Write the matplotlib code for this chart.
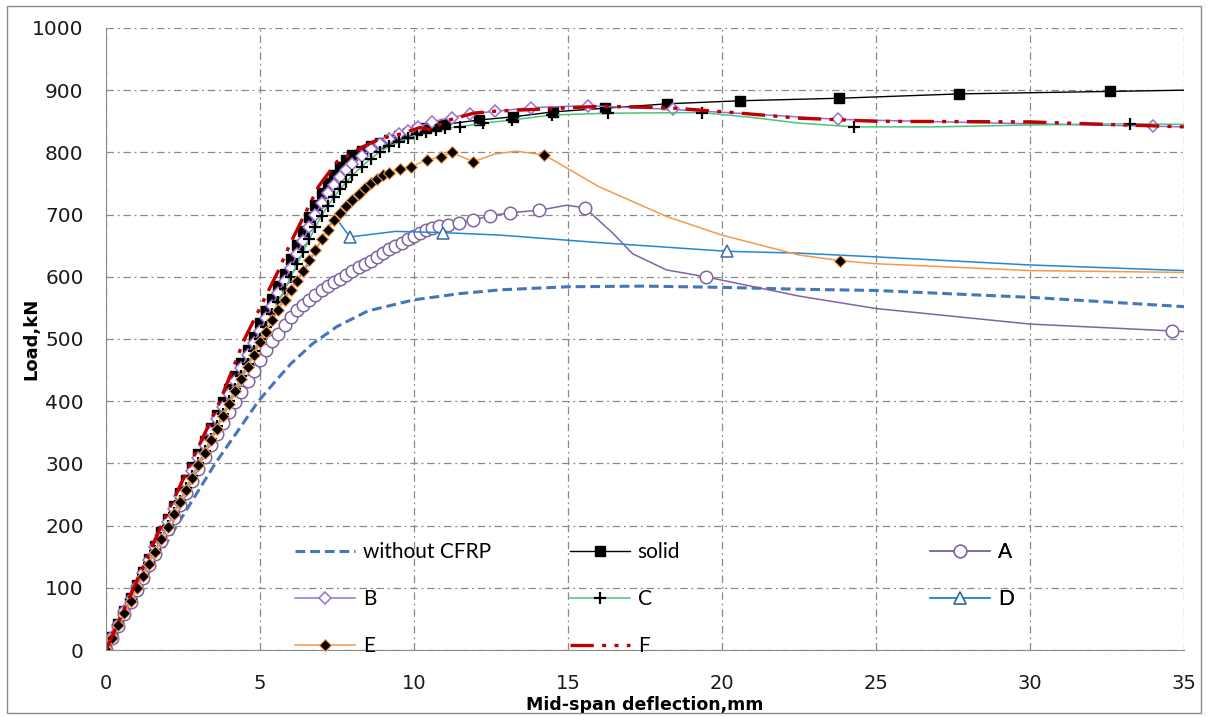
import matplotlib
matplotlib.use("Agg")
import matplotlib.pyplot as plt
from matplotlib.lines import Line2D
from matplotlib.patches import Rectangle

# ---- data (deflection mm, load kN) ----
wo_x = [0, 1.1, 2.3, 3.55, 4.95, 5.5, 6.0, 6.7, 7.5, 8.5, 10.0, 11.5, 12.8, 15.0, 17.5,
        20.0, 22.5, 25.0, 30.0, 35.0]
wo_y = [0, 100, 200, 300, 400, 432, 460, 492, 520, 545, 563, 573, 579, 584, 585,
        583, 580, 578, 567, 552]

solid_x = [0, 0.2, 0.4, 0.6, 0.8, 1.0, 1.2, 1.4, 1.6, 1.8, 2.0, 2.2, 2.4, 2.6, 2.8, 3.0,
           3.2, 3.4, 3.6, 3.8, 4.0, 4.2, 4.4, 4.6, 4.8, 5.0, 5.2, 5.4, 5.6, 5.8, 6.0, 6.2,
           6.4, 6.6, 6.8, 7.0, 7.2, 7.4, 7.6, 7.8, 8.0, 8.3, 8.6, 8.9, 9.2, 9.5, 9.8, 10.1,
           10.4, 10.7, 11.0, 12.1, 13.2, 14.5, 16.2, 18.2, 20.6, 23.8, 27.7, 32.6, 35.0]
solid_y = [0, 21, 42, 63, 84, 105, 126, 147, 168, 189, 210, 231, 252, 273, 294, 315,
           336, 357, 378, 399, 420, 441, 462, 483, 504, 525, 545, 565, 585, 605, 628, 651,
           674, 696, 716, 735, 750, 764, 776, 787, 795, 803, 810, 815, 820, 826, 831, 836,
           839, 842, 845, 852, 857, 865, 871, 878, 883, 887, 894, 898, 900]
solid_nomark = [35.0]

a_x = [0, 0.2, 0.4, 0.6, 0.8, 1.0, 1.2, 1.4, 1.6, 1.8, 2.0, 2.2, 2.4, 2.6, 2.8, 3.0, 3.2,
       3.4, 3.6, 3.8, 4.0, 4.2, 4.4, 4.6, 4.8, 5.0, 5.2, 5.4, 5.6, 5.8, 6.0, 6.2, 6.4, 6.6,
       6.8, 7.0, 7.2, 7.4, 7.6, 7.8, 8.0, 8.2, 8.4, 8.6, 8.8, 9.0, 9.2, 9.4, 9.6, 9.8, 10.0,
       10.2, 10.4, 10.6, 10.8, 11.1, 11.47, 11.93, 12.47, 13.12, 14.07, 14.95, 15.55, 16.46,
       17.1, 18.2, 19.47, 22.5, 25.0, 30.0, 34.6, 35.0]
a_y = [0, 19, 39, 58, 78, 97, 116, 136, 155, 175, 194, 213, 233, 252, 272, 291, 310,
       330, 347, 365, 382, 399, 415, 432, 449, 466, 482, 496, 508, 522, 536, 546, 555, 563,
       571, 578, 585, 591, 597, 603, 609, 615, 620, 626, 632, 638, 644, 650, 655, 660, 665,
       670, 675, 678, 681, 684, 687, 691, 698, 703, 707, 715, 711, 670,
       637, 611, 600, 569, 549, 524, 513, 512]
a_nomark = [14.95, 16.46, 17.1, 18.2, 22.5, 25.0, 30.0, 35.0]

b_x = [0, 0.2, 0.4, 0.6, 0.8, 1.0, 1.2, 1.4, 1.6, 1.8, 2.0, 2.2, 2.4, 2.6, 2.8, 3.0, 3.2,
       3.4, 3.6, 3.8, 4.0, 4.2, 4.4, 4.6, 4.8, 5.0, 5.2, 5.4, 5.6, 5.8, 6.0, 6.2, 6.4, 6.6,
       6.8, 7.0, 7.2, 7.4, 7.6, 7.8, 8.0, 8.3, 8.6, 8.9, 9.2, 9.5, 9.8, 10.14, 10.57, 11.22,
       11.82, 12.63, 13.8, 15.66, 18.42, 20.5, 23.78, 29.0, 34.0, 35.0]
b_y = [0, 21, 41, 62, 82, 103, 124, 144, 165, 185, 206, 227, 247, 268, 288, 309, 330,
       350, 371, 391, 412, 433, 453, 474, 494, 513, 533, 553, 574, 594, 614, 636, 658, 680,
       700, 718, 734, 748, 761, 772, 782, 794, 805, 814, 822, 829, 835, 841, 849, 856,
       862, 866, 872, 875, 869, 863, 853, 847, 842, 841]
b_nomark = [20.5, 29.0, 35.0]

c_x = [0, 0.2, 0.4, 0.6, 0.8, 1.0, 1.2, 1.4, 1.6, 1.8, 2.0, 2.2, 2.4, 2.6, 2.8, 3.0, 3.2,
       3.4, 3.6, 3.8, 4.0, 4.2, 4.4, 4.6, 4.8, 5.0, 5.2, 5.4, 5.6, 5.8, 6.0, 6.2, 6.4, 6.6,
       6.8, 7.0, 7.2, 7.4, 7.6, 7.8, 8.0, 8.3, 8.6, 8.9, 9.2, 9.5, 9.8, 10.1, 10.4, 10.7,
       11.0, 11.5, 12.23, 13.17, 14.47, 16.3, 19.34, 21.0, 22.5, 24.3, 27.0, 30.0, 33.25, 35.0]
c_y = [0, 20, 40, 60, 80, 100, 120, 140, 160, 180, 200, 220, 240, 260, 280, 300, 320,
       340, 360, 380, 400, 420, 440, 460, 480, 500, 520, 540, 560, 580, 600, 620, 640, 660,
       680, 698, 714, 728, 741, 752, 763, 777, 790, 801, 810, 817, 823, 829, 833, 836,
       839, 841, 847, 852, 860, 863, 864, 856, 847, 841, 841, 844, 846, 845]
c_nomark = [21.0, 22.5, 27.0, 30.0, 35.0]

d_x = [0, 1.0, 2.0, 3.0, 4.0, 5.0, 5.8, 6.5, 7.0, 7.43, 7.92, 9.4, 10.95, 12.8, 16.0,
       20.15, 22.5, 25.0, 30.0, 35.0]
d_y = [0, 99, 199, 298, 395, 495, 565, 615, 660, 697, 664, 673, 671, 667, 655,
       641, 638, 632, 619, 610]
d_marked = [0, 7.92, 10.95, 20.15]

e_x = [0, 0.2, 0.4, 0.6, 0.8, 1.0, 1.2, 1.4, 1.6, 1.8, 2.0, 2.2, 2.4, 2.6, 2.8, 3.0, 3.2,
       3.4, 3.6, 3.8, 4.0, 4.2, 4.4, 4.6, 4.8, 5.0, 5.2, 5.4, 5.6, 5.8, 6.0, 6.2, 6.4, 6.6,
       6.8, 7.0, 7.2, 7.4, 7.6, 7.8, 8.0, 8.2, 8.4, 8.6, 8.8, 9.0, 9.2, 9.55, 9.92, 10.41,
       10.88, 11.22, 11.93, 12.6, 13.3, 14.23, 16.0, 18.2, 20.0, 22.5, 23.83, 25.0, 30.0, 35.0]
e_y = [0, 20, 40, 59, 79, 99, 119, 139, 158, 178, 198, 218, 238, 257, 277, 297, 317,
       337, 356, 376, 396, 416, 436, 455, 475, 495, 512, 530, 547, 563, 578, 594, 610, 627,
       643, 660, 676, 691, 703, 714, 724, 733, 742, 750, 757, 763, 767, 773, 777, 788,
       792, 800, 785, 797, 802, 796, 745, 697, 667, 635, 626, 621, 610, 607]
e_nomark = [12.6, 13.3, 16.0, 18.2, 20.0, 22.5, 25.0, 30.0, 35.0]

f_x = [0, 0.9, 1.8, 2.75, 3.7, 4.5, 5.1, 5.6, 6.0, 6.45, 6.9, 7.5, 8.3, 8.9, 9.6, 10.2,
       10.57, 11.0, 11.93, 12.57, 13.87, 16.04, 18.2, 20.37, 22.5, 25.0, 30.0, 35.0]
f_y = [0, 100, 200, 300, 400, 500, 560, 610, 655, 700, 745, 785, 808, 822, 830, 840,
       836, 850, 863, 866, 869, 874, 872, 864, 855, 850, 849, 841]

labels = ["without CFRP", "solid", "A", "B", "C", "D", "E", "F"]


def mark_idx(xs, skip=None, only=None):
    if only is not None:
        return [i for i, v in enumerate(xs) if v in only]
    return [i for i, v in enumerate(xs) if v not in skip]


styles = {
    "without CFRP": dict(color="#4676BA", lw=2.2, ls=(0, (3.2, 1.6))),
    "solid": dict(color="black", lw=1.0, marker="s", ms=6.5, mfc="black", mec="black"),
    "A": dict(color="#8064A2", lw=1.1, marker="o", ms=9, mfc="white", mec="#8064A2", mew=1.1),
    "B": dict(color="#9B6FD1", lw=1.1, marker="D", ms=6.5, mfc="white", mec="#9B6FD1", mew=1.1),
    "C": dict(color="#4CC47E", lw=1.1, marker="+", ms=9, mec="black", mew=1.6),
    "D": dict(color="#1F88D4", lw=1.1, marker="^", ms=8.5, mfc="white", mec="#3A6AA6", mew=1.1),
    "E": dict(color="#F5994A", lw=1.1, marker="D", ms=6, mfc="black", mec="#F5994A", mew=0.8),
    "F": dict(color="#C00000", lw=2.4, ls=(0, (7, 2.5, 1.2, 2.5, 1.2, 2.5))),
}

fig = plt.figure(figsize=(12.08, 7.17), dpi=100)
ax = fig.add_axes([0.0877, 0.0934, 0.8924, 0.8676])

ax.plot(wo_x, wo_y, **styles["without CFRP"])
ax.plot(solid_x, solid_y, markevery=mark_idx(solid_x, skip=solid_nomark), **styles["solid"])
ax.plot(a_x, a_y, markevery=mark_idx(a_x, skip=a_nomark), **styles["A"])
ax.plot(b_x, b_y, markevery=mark_idx(b_x, skip=b_nomark), **styles["B"])
ax.plot(c_x, c_y, markevery=mark_idx(c_x, skip=c_nomark), **styles["C"])
ax.plot(d_x, d_y, markevery=mark_idx(d_x, only=d_marked), **styles["D"])
ax.plot(e_x, e_y, markevery=mark_idx(e_x, skip=e_nomark), **styles["E"])
ax.plot(f_x, f_y, **styles["F"])

ax.set_xlim(0, 35)
ax.set_ylim(0, 1000)
ax.set_xticks(range(0, 36, 5))
ax.set_yticks(range(0, 1001, 100))
ax.grid(True, color="#8a8a8a", lw=0.9, ls=(0, (6, 3, 1.5, 3)))
ax.set_axisbelow(True)
for s in ["top", "right"]:
    ax.spines[s].set_visible(False)
for s in ["left", "bottom"]:
    ax.spines[s].set_color("#8a8a8a")
ax.tick_params(axis="y", labelsize=14.5, length=0, pad=16, labelcolor="#1a1a1a")
ax.tick_params(axis="x", labelsize=14, length=0, pad=17, labelcolor="#1a1a1a")

ax.set_xlabel("Mid-span deflection,mm", fontsize=12.5, fontweight="bold")
ax.xaxis.set_label_coords(0.5, -0.074)
ax.set_ylabel("Load,kN", fontsize=13, fontweight="bold")
ax.yaxis.set_label_coords(-0.061, 0.5)

# legend: three columns placed like the reference
handles = {lab: Line2D([], [], **styles[lab]) for lab in labels}
cols = [(["without CFRP", "B", "E"], 0.1753),
        (["solid", "C", "F"], 0.4304),
        (["A", "D"], 0.7644)]
for names, xa in cols:
    leg = ax.legend([handles[n] for n in names], names, loc="upper left",
                    bbox_to_anchor=(xa, 0.174), frameon=False, borderpad=0,
                    borderaxespad=0, handlelength=2.9, handletextpad=0.35,
                    labelspacing=1.31, prop={"family": ["Lato", "DejaVu Sans"], "size": 15})
    ax.add_artist(leg)

fig.patches.append(Rectangle((0.006, 0.006), 0.988, 0.986, transform=fig.transFigure,
                             fill=False, edgecolor="#8a8a8a", lw=1.0))

fig.savefig("out.png", dpi=100)
